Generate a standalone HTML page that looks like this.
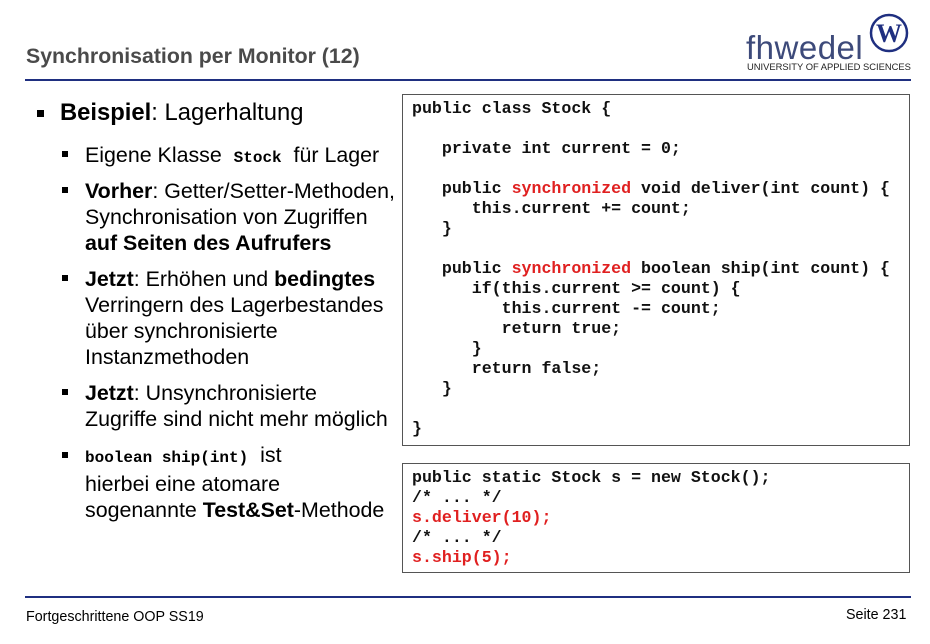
<!DOCTYPE html>
<html><head><meta charset="utf-8"><style>
body{margin:0;width:930px;height:644px;background:#fff;position:relative;font-family:"Liberation Sans",sans-serif;overflow:hidden}
.a{position:absolute}
.t{left:26px;top:44px;font-size:21.3px;font-weight:bold;color:#4a4a4a}
.hl{left:25px;top:79px;width:886px;height:2px;background:#1f2f80}
.fl{left:25px;top:596px;width:886px;height:2px;background:#1f2f80}
.box{border:1px solid #555;background:#fff;font-family:"Liberation Mono",monospace;font-weight:bold;font-size:16.6px;line-height:20px;white-space:pre;color:#111;box-sizing:border-box;padding:4px 0 0 9px}
.r{color:#e02020}
.sq{position:absolute;width:6px;height:6px;background:#000}
.tx{position:absolute;color:#000;font-size:21.4px;line-height:26px;white-space:nowrap}
code{font-family:"Liberation Mono",monospace;font-weight:bold;font-size:16px}
</style></head><body>
<div class="a t">Synchronisation per Monitor (12)</div>
<div class="a hl"></div>
<div class="a" style="left:746px;top:29px;font-size:33px;color:#3d4a7a;letter-spacing:0.5px">fhwedel</div>
<div class="a" style="left:747px;top:61px;font-size:9.4px;color:#222">UNIVERSITY OF APPLIED SCIENCES</div>
<svg class="a" style="left:868px;top:12px" width="42" height="42"><circle cx="21" cy="21" r="18" fill="#fff" stroke="#1f2f80" stroke-width="2.5"/><text x="21" y="30" text-anchor="middle" font-family="Liberation Serif" font-weight="bold" font-size="26" fill="#1f2f80">W</text></svg>

<div class="sq" style="left:37px;top:110px;width:7px;height:7px"></div>
<div class="tx" style="left:60px;top:100px;font-size:23.8px"><b>Beispiel</b>: Lagerhaltung</div>

<div class="sq" style="left:62px;top:151px"></div>
<div class="tx" style="left:85px;top:142px">Eigene Klasse&nbsp; <code>Stock</code>&nbsp; für Lager</div>
<div class="sq" style="left:62px;top:187px"></div>
<div class="tx" style="left:85px;top:178px"><b>Vorher</b>: Getter/Setter-Methoden,<br>Synchronisation von Zugriffen<br><b>auf Seiten des Aufrufers</b></div>
<div class="sq" style="left:62px;top:275px"></div>
<div class="tx" style="left:85px;top:266px"><b>Jetzt</b>: Erhöhen und <b>bedingtes</b><br>Verringern des Lagerbestandes<br>über synchronisierte<br>Instanzmethoden</div>
<div class="sq" style="left:62px;top:389px"></div>
<div class="tx" style="left:85px;top:380px"><b>Jetzt</b>: Unsynchronisierte<br>Zugriffe sind nicht mehr möglich</div>
<div class="sq" style="left:62px;top:452px"></div>
<div class="tx" style="left:85px;top:442px"><code>boolean ship(int)</code>&nbsp; ist<br>hierbei eine atomare<br>sogenannte <b>Test&amp;Set</b>-Methode</div>

<div class="a box" style="left:402px;top:94px;width:508px;height:352px">public class Stock {

   private int current = 0;

   public <span class="r">synchronized</span> void deliver(int count) {
      this.current += count;
   }

   public <span class="r">synchronized</span> boolean ship(int count) {
      if(this.current &gt;= count) {
         this.current -= count;
         return true;
      }
      return false;
   }

}</div>
<div class="a box" style="left:402px;top:463px;width:508px;height:110px">public static Stock s = new Stock();
/* ... */
<span class="r">s.deliver(10);</span>
/* ... */
<span class="r">s.ship(5);</span></div>

<div class="a fl"></div>
<div class="a" style="left:26px;top:609px;font-size:14.3px">Fortgeschrittene OOP SS19</div>
<div class="a" style="left:846px;top:607px;font-size:14.3px">Seite 231</div>
</body></html>
